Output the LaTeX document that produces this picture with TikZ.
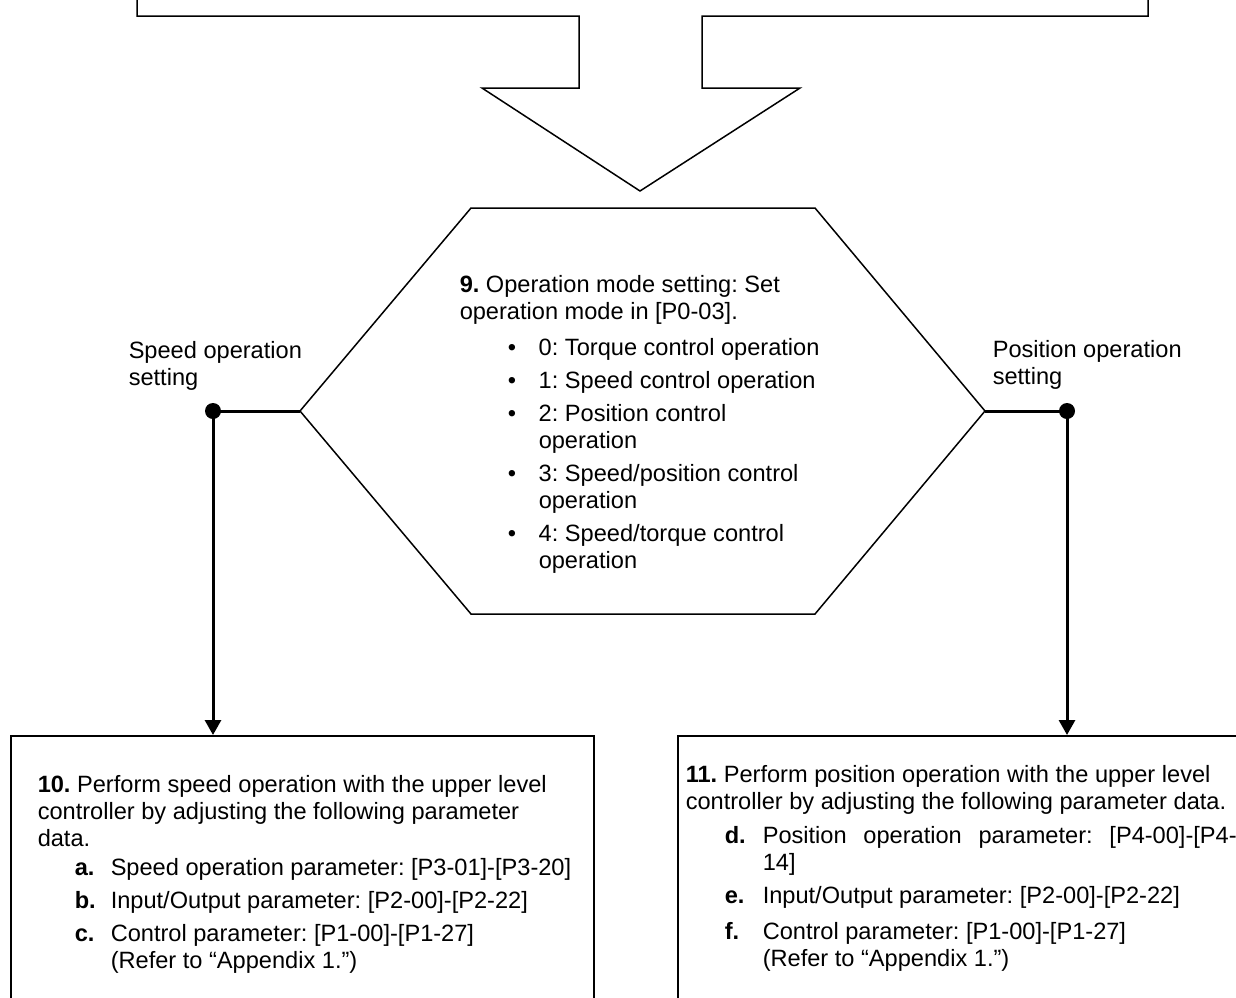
\documentclass[tikz,border=0pt]{standalone}
\usepackage{fontspec}
\setmainfont{Liberation Sans}
\usetikzlibrary{arrows.meta}
\frenchspacing

\newcommand{\modeitem}{\hspace*{24pt}\makebox[15.5pt][l]{•}}
\newcommand{\modecont}{\hspace*{39.5pt}}

\tikzset{
	conn/.style={line width=1.5pt},
	dot/.style={circle,fill=black,inner sep=0pt,minimum size=8pt},
	stepbox/.style={draw,line width=0.75pt,anchor=north west,inner sep=0pt,minimum height=150pt},
	steptext/.style={anchor=north west,inner sep=0pt,align=left,font=\fontsize{11.8}{13.5}\selectfont},
}

\begin{document}
\begin{tikzpicture}[x=0.5pt,y=-0.5pt,line width=0.75pt,>={Triangle[length=7.5pt,width=8pt]}]
	
	\useasboundingbox (0,0) rectangle (1236,997);
	\clip (0,0) rectangle (1236,997);

	%big arrow from the step above
	\draw (137,-20) -- (137,16) -- (579,16) -- (579,88) -- (482,88) -- (640,191)
		-- (800,88) -- (702,88) -- (702,16) -- (1148,16) -- (1148,-20);

	% hexagon : operation mode
	\coordinate (hexW) at (300,411);
	\coordinate (hexE) at (985,411);
	\draw (471,208) -- (815,208) -- (hexE) -- (815,614) -- (471,614) -- (hexW) -- cycle;
	\node[steptext] (modetext) at (459,275) {\textbf{9.} Operation mode setting: Set\\
		operation mode in [P0-03].\\[4.5pt]
		\modeitem 0: Torque control operation\\[3pt]
		\modeitem 1: Speed control operation\\[3pt]
		\modeitem 2: Position control\\
		\modecont operation\\[3pt]
		\modeitem 3: Speed/position control\\
		\modecont operation\\[3pt]
		\modeitem 4: Speed/torque control\\
		\modecont operation};

	%%% branches
	\node[dot] (speeddot) at (213,411) {};
	\node[dot] (posdot) at (1067,411) {};
	\node[steptext] (speedlbl) at (128,341) {Speed operation\\setting};
	\node[steptext] (poslbl) at (992,340) {Position operation\\setting};

	% boxes
	\node[stepbox,minimum width=291.5pt] (speedbox) at (10,735) {};
	\node[stepbox,minimum width=290pt] (posbox) at (677,735) {};

	\draw[conn] (speeddot.center) -- (hexW);
	\draw[conn,->] (speeddot.center) -- (speeddot.center |- speedbox.north);
	\draw[conn] (posdot.center) -- (hexE);
	\draw[conn,->] (posdot.center) -- (posdot.center |- posbox.north);

	%%% speed operation
	\node[steptext] (speedtext) at (37,775) {\textbf{10.} Perform speed operation with the upper level\\
		controller by adjusting the following parameter\\
		data.\\[1pt]
		\hspace*{18.5pt}\makebox[18pt][l]{\textbf{a.}}Speed operation parameter: [P3-01]-[P3-20]\\[3pt]
		\hspace*{18.5pt}\makebox[18pt][l]{\textbf{b.}}Input/Output parameter: [P2-00]-[P2-22]\\[3pt]
		\hspace*{18.5pt}\makebox[18pt][l]{\textbf{c.}}Control parameter: [P1-00]-[P1-27]\\
		\hspace*{36.5pt}(Refer to “Appendix 1.”)};

	%%% position operation
	\node[steptext] (postext) at (685,765) {\textbf{11.} Perform position operation with the upper level\\
		controller by adjusting the following parameter data.\\[3.5pt]
		\hspace*{19.5pt}\makebox[19pt][l]{\textbf{d.}}\makebox[237pt][s]{Position operation parameter: [P4-00]-[P4-}\\
		\hspace*{38.5pt}14]\\[3pt]
		\hspace*{19.5pt}\makebox[19pt][l]{\textbf{e.}}Input/Output parameter: [P2-00]-[P2-22]\\[4.5pt]
		\hspace*{19.5pt}\makebox[19pt][l]{\textbf{f.}}Control parameter: [P1-00]-[P1-27]\\
		\hspace*{38.5pt}(Refer to “Appendix 1.”)};
\end{tikzpicture}
\end{document}
